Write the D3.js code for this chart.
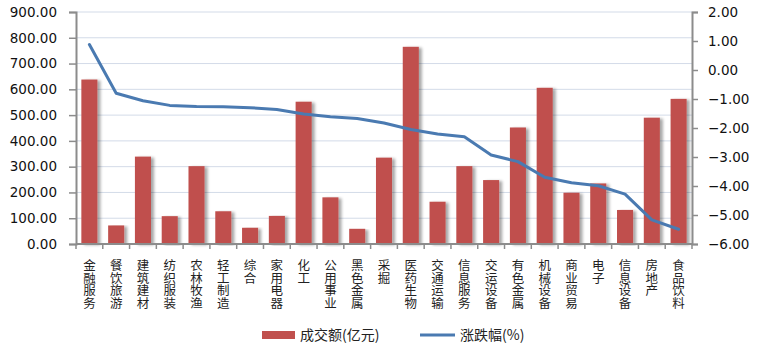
<!DOCTYPE html>
<html>
<head>
<meta charset="utf-8">
<script src="https://cdn.jsdelivr.net/npm/d3@7"></script>
<style>
  html, body { margin: 0; padding: 0; background: #fff; }
  svg { display: block; }
</style>
</head>
<body>
<svg id="chart" width="760" height="350"></svg>
<script>
// Sectors, sorted by daily change
const categories = ["金融服务","餐饮旅游","建筑建材","纺织服装","农林牧渔","轻工制造","综合","家用电器","化工","公用事业","黑色金属","采掘","医药生物","交通运输","信息服务","交运设备","有色金属","机械设备","商业贸易","电子","信息设备","房地产","食品饮料"];
// Turnover, 100 million yuan
const turnover = [638, 72, 339, 108, 302, 127, 63, 109, 552, 181, 59, 335, 765, 164, 302, 248, 452, 606, 199, 235, 132, 490, 563];
// Price change, %
const change = [0.88, -0.80, -1.06, -1.22, -1.26, -1.27, -1.30, -1.36, -1.52, -1.61, -1.67, -1.83, -2.05, -2.21, -2.30, -2.93, -3.16, -3.70, -3.89, -3.99, -4.28, -5.17, -5.49];
const leftTicks = [0, 100, 200, 300, 400, 500, 600, 700, 800, 900];
const rightTicks = [-6, -5, -4, -3, -2, -1, 0, 1, 2];
const seriesNames = ["成交额(亿元)", "涨跌幅(%)"];

const svg = d3.select("#chart");
const m = { left: 76, right: 692, top: 12, bottom: 244 };
const numFont = "DejaVu Sans, Verdana, sans-serif";
const cjkFont = "'Noto Sans CJK SC', sans-serif";
const axisColor = "#8c8c8c";

const x = d3.scaleBand().domain(categories).range([m.left, m.right]).paddingInner(0.4).paddingOuter(0.2);
const yL = d3.scaleLinear().domain([0, 900]).range([m.bottom, m.top]);
const yR = d3.scaleLinear().domain([-6, 2]).range([m.bottom, m.top]);

// soft shadow on the right of each bar
const defs = svg.append("defs");
const f = defs.append("filter").attr("id", "shadow").attr("x", "-20%").attr("y", "-5%").attr("width", "160%").attr("height", "110%");
f.append("feGaussianBlur").attr("in", "SourceAlpha").attr("stdDeviation", 1.5).attr("result", "b");
f.append("feOffset").attr("in", "b").attr("dx", 3).attr("dy", 1).attr("result", "o");
f.append("feComponentTransfer").attr("in", "o").attr("result", "o2")
  .append("feFuncA").attr("type", "linear").attr("slope", 0.35);
const mg = f.append("feMerge");
mg.append("feMergeNode").attr("in", "o2");
mg.append("feMergeNode").attr("in", "SourceGraphic");

// gridlines
svg.append("g").selectAll("line").data(leftTicks.filter(d => d > 0)).join("line")
  .attr("x1", m.left).attr("x2", m.right)
  .attr("y1", d => yL(d)).attr("y2", d => yL(d))
  .attr("stroke", "#d3dbe8").attr("stroke-width", 1);

// bars
svg.append("g").selectAll("rect").data(categories).join("rect")
  .attr("x", d => x(d))
  .attr("width", x.bandwidth())
  .attr("y", (d, i) => yL(turnover[i]))
  .attr("height", (d, i) => yL(0) - yL(turnover[i]))
  .attr("fill", "#c0504d")
  .attr("filter", "url(#shadow)");

// line
const line = d3.line().x((d, i) => x(categories[i]) + x.bandwidth() / 2).y(d => yR(d));
svg.append("path").datum(change)
  .attr("d", line)
  .attr("fill", "none")
  .attr("stroke", "#4a7ab1")
  .attr("stroke-width", 3)
  .attr("stroke-linejoin", "round")
  .attr("stroke-linecap", "round");

function styleAxis(g) {
  g.select(".domain").attr("stroke", axisColor).attr("stroke-width", 2);
  g.selectAll(".tick line").attr("stroke", axisColor).attr("stroke-width", 1.5);
}

// left axis
const gL = svg.append("g").attr("transform", `translate(${m.left},0)`)
  .call(d3.axisLeft(yL).tickValues(leftTicks).tickFormat(d3.format(".2f")).tickSize(7).tickSizeOuter(7).tickPadding(12));
styleAxis(gL);
gL.selectAll("text").attr("font-family", numFont).attr("font-size", 13.5).attr("fill", "#111");

// right axis
const gR = svg.append("g").attr("transform", `translate(${m.right},0)`)
  .call(d3.axisRight(yR).tickValues(rightTicks).tickFormat(d3.format(".2f")).tickSize(6).tickSizeOuter(6).tickPadding(10));
styleAxis(gR);
gR.selectAll("text").attr("font-family", numFont).attr("font-size", 13.5).attr("fill", "#111");

// bottom axis: ticks at band boundaries
const bounds = d3.range(categories.length + 1).map(i => m.left + i * (m.right - m.left) / categories.length);
const gB = svg.append("g");
gB.append("line").attr("x1", m.left).attr("x2", m.right).attr("y1", m.bottom).attr("y2", m.bottom)
  .attr("stroke", axisColor).attr("stroke-width", 2);
gB.selectAll("line.t").data(bounds).join("line").attr("class", "t")
  .attr("x1", d => d).attr("x2", d => d).attr("y1", m.bottom).attr("y2", m.bottom + 5)
  .attr("stroke", axisColor).attr("stroke-width", 1.5);

// vertical category labels (top-to-bottom writing)
svg.append("g").selectAll("text").data(categories).join("text")
  .attr("x", d => x(d) + x.bandwidth() / 2)
  .attr("y", 259)
  .attr("writing-mode", "vertical-rl")
  .attr("text-anchor", "start")
  .attr("font-family", cjkFont).attr("font-size", 12.5).attr("fill", "#222")
  .text(d => d);

// legend
const lg = svg.append("g");
lg.append("rect").attr("x", 262).attr("y", 331).attr("width", 33).attr("height", 8).attr("fill", "#c0504d");
lg.append("text").attr("x", 300).attr("y", 340).attr("font-family", cjkFont).attr("font-size", 14).attr("fill", "#222").text(seriesNames[0]);
lg.append("line").attr("x1", 420).attr("x2", 455).attr("y1", 335).attr("y2", 335).attr("stroke", "#4a7ab1").attr("stroke-width", 3);
lg.append("text").attr("x", 460).attr("y", 340).attr("font-family", cjkFont).attr("font-size", 14).attr("fill", "#222").text(seriesNames[1]);
</script>
</body>
</html>
